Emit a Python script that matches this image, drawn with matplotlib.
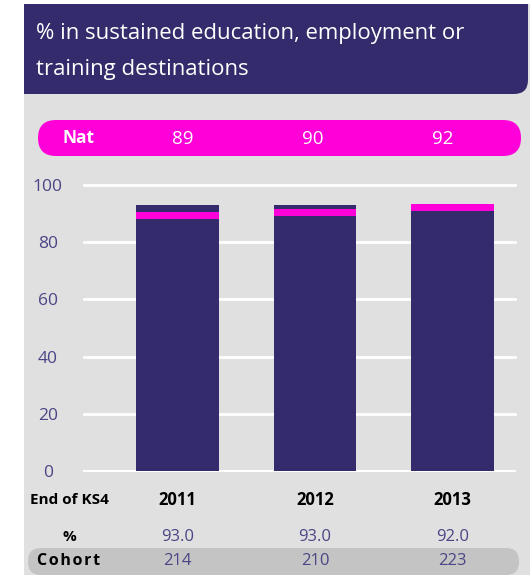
import numpy as np
import matplotlib
matplotlib.use("Agg")
import matplotlib.pyplot as plt
from matplotlib.patches import FancyBboxPatch, Rectangle

# data
years = ["2011", "2012", "2013"]
school_pct = [93.0, 93.0, 92.0]
nat_pct = [89, 90, 92]
cohort = [214, 210, 223]
yticks = [0, 20, 40, 60, 80, 100]

NAVY = "#332b6b"
MAGENTA = "#ff00d8"
GREY = "#e0e0e0"
PILL_GREY = "#c4c4c4"
TXT = "#4a4585"

W, H = 530, 575
plt.rcParams["font.family"] = ["Open Sans", "DejaVu Sans"]

fig = plt.figure(figsize=(W / 100, H / 100), dpi=100)


def px(x, y):
    # pixel coords (top-left origin) -> figure fraction
    return x / W, 1 - y / H


def box(x0, y0, x1, y1, color, r=0):
    fx0, fy1 = px(x0, y1)
    w, h = (x1 - x0) / W, (y1 - y0) / H
    if r:
        p = FancyBboxPatch((fx0, fy1), w, h, boxstyle="round,pad=0,rounding_size=%f" % (r / W),
                           transform=fig.transFigure, fc=color, ec="none", mutation_aspect=W / H)
    else:
        p = Rectangle((fx0, fy1), w, h, transform=fig.transFigure, fc=color, ec="none")
    p.set_zorder(-5)
    fig.patches.append(p)


# card background and title box (only bottom-right corner rounded)
box(24, 4, 530, 575, GREY)
box(24, 4, 528, 94, NAVY, r=14)
box(24, 4, 510, 94, NAVY)
box(24, 4, 528, 80, NAVY)
fig.text(*px(36, 33), "% in sustained education, employment or", color="white",
         fontsize=15.9, va="center", ha="left")
fig.text(*px(36, 70), "training destinations", color="white",
         fontsize=15.9, va="center", ha="left")

# national pill
box(38, 120, 521, 156, MAGENTA, r=18)
fig.text(*px(78, 138), "Nat", color="white", fontsize=12.5, fontweight="bold",
         ha="center", va="center")
for xp, v in zip([183, 313, 443], nat_pct):
    fig.text(*px(xp, 139), str(v), color="white", fontsize=13.5, ha="center", va="center")

# cohort pill
box(28, 548, 519, 575, PILL_GREY, r=13)

# chart
ax = fig.add_axes([84 / W, (H - 471) / H, (515 - 84) / W, 286 / H])
ax.set_zorder(2)
ax.set_facecolor("none")
for s in ax.spines.values():
    s.set_visible(False)
x = np.arange(len(years))
ax.set_xlim(-0.678, 2.453)
ax.set_ylim(0, 100)
for t in yticks:
    ax.axhline(t, color="white", lw=2.0 if t else 1.4, zorder=1, clip_on=False)
ax.bar(x, school_pct, width=0.6, color=NAVY, zorder=2)
# national marker band on each bar
ax.bar(x, [2.5] * len(x), bottom=np.array(nat_pct) - 1, width=0.6, color=MAGENTA, zorder=3)

ax.set_xticks([])
ax.set_yticks(yticks)
ax.set_yticklabels([str(t) for t in yticks], color=TXT, fontsize=12.5)
ax.tick_params(axis="y", length=0, pad=26)
for lab in ax.get_yticklabels():
    lab.set_horizontalalignment("center")

# table rows under the chart
tr = ax.get_xaxis_transform()
lx = -0.678 + (69 - 84) / 138  # left label column in data units
ax.text(lx, -0.101, "End of KS4", transform=tr, ha="center", va="center",
        fontsize=11, fontweight="bold", color="black", clip_on=False)
ax.text(lx, -0.231, "%", transform=tr, ha="center", va="center",
        fontsize=11, fontweight="bold", color="black", clip_on=False)
ax.text(lx, -0.315, "\u200a".join("Cohort"), transform=tr, ha="center", va="center",
        fontsize=11.5, fontweight="bold", color="black", clip_on=False)
for xi, yr, p, c in zip(x, years, school_pct, cohort):
    ax.text(xi, -0.101, yr, transform=tr, ha="center", va="center",
            fontsize=12, fontweight="bold", color="black", clip_on=False)
    ax.text(xi, -0.231, "%.1f" % p, transform=tr, ha="center", va="center",
            fontsize=12, color=TXT, clip_on=False)
    ax.text(xi, -0.315, str(c), transform=tr, ha="center", va="center",
            fontsize=12, color=TXT, clip_on=False)

fig.savefig("out.png", dpi=100)
